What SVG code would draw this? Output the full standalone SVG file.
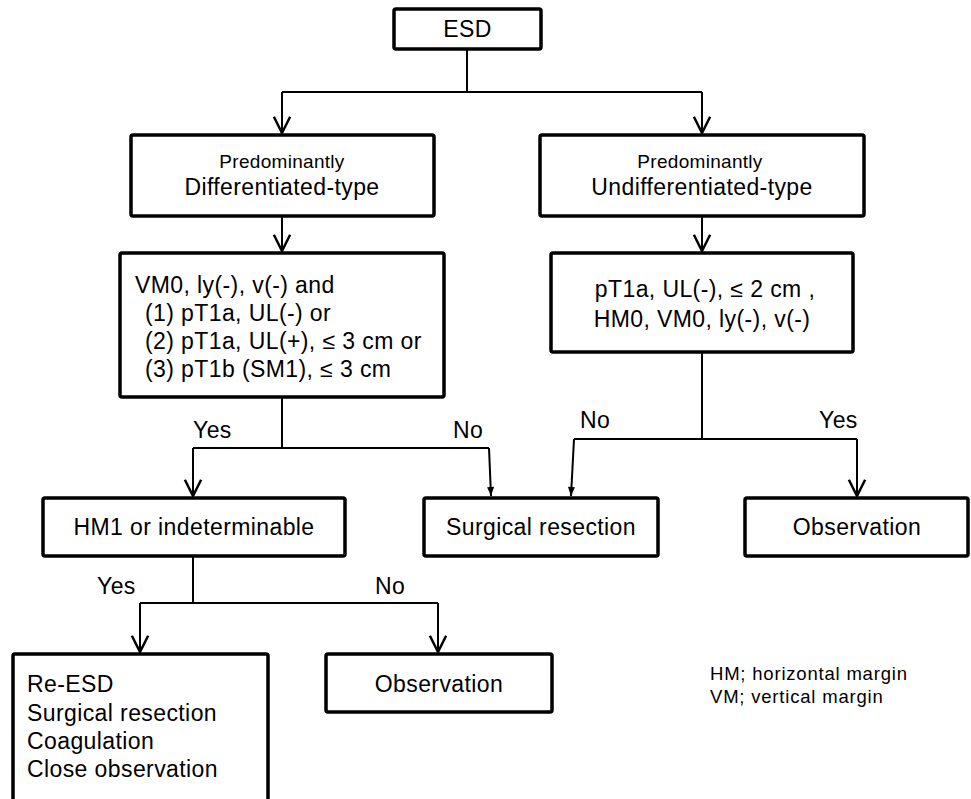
<svg xmlns="http://www.w3.org/2000/svg" width="971" height="799" viewBox="0 0 971 799">
<style>
.box{fill:#fff;stroke:#000;stroke-width:3.5}
.t{font-family:"Liberation Sans",Arial,sans-serif;font-size:23px;letter-spacing:0.4px;fill:#000}
.s{font-family:"Liberation Sans",Arial,sans-serif;font-size:19px;letter-spacing:0.3px;fill:#000}
.g{font-family:"Liberation Sans",Arial,sans-serif;font-size:18.5px;letter-spacing:0.8px;fill:#000}
.c{text-anchor:middle}
.ln{fill:none;stroke:#000;stroke-width:2}
</style>
<defs>
<marker id="open" markerUnits="userSpaceOnUse" orient="auto" refX="0" refY="0" markerWidth="20" markerHeight="20" viewBox="-14 -8 16 16" overflow="visible">
<path d="M-13,-6.5 L0,0 L-13,6.5" fill="none" stroke="#000" stroke-width="2"/>
</marker>
<marker id="fill" markerUnits="userSpaceOnUse" orient="auto" refX="0" refY="0" markerWidth="12" markerHeight="12" viewBox="-10 -5 12 10" overflow="visible">
<path d="M-9,-3.5 L0,0 L-9,3.5 Z" fill="#000"/>
</marker>
</defs>
<g id="connectors">
<path class="ln" d="M467,49 V92"/>
<path class="ln" d="M282,92 H702"/>
<path class="ln" d="M282,92 V133" marker-end="url(#open)"/>
<path class="ln" d="M702,92 V133" marker-end="url(#open)"/>
<path class="ln" d="M282,216 V251" marker-end="url(#open)"/>
<path class="ln" d="M702,216 V251" marker-end="url(#open)"/>
<path class="ln" d="M282,397 V448"/>
<path class="ln" d="M193,448 H489"/>
<path class="ln" d="M193,448 V496" marker-end="url(#open)"/>
<path class="ln" d="M489,448 L491,496" marker-end="url(#fill)"/>
<path class="ln" d="M702,352 V439"/>
<path class="ln" d="M574,439 H857"/>
<path class="ln" d="M574,439 L571,496" marker-end="url(#fill)"/>
<path class="ln" d="M857,439 V496" marker-end="url(#open)"/>
<path class="ln" d="M193,556 V603"/>
<path class="ln" d="M140,603 H438"/>
<path class="ln" d="M140,603 V652" marker-end="url(#open)"/>
<path class="ln" d="M438,603 V652" marker-end="url(#open)"/>
</g>
<g id="labels">
<text class="t" x="193" y="438">Yes</text>
<text class="t" x="453" y="438">No</text>
<text class="t" x="580" y="428">No</text>
<text class="t" x="819" y="428">Yes</text>
<text class="t" x="97" y="594">Yes</text>
<text class="t" x="375" y="594">No</text>
</g>
<g id="esd">
<rect class="box" x="394" y="9" width="147" height="40" rx="2"/>
<text class="t c" x="467.5" y="37">ESD</text>
</g>
<g id="diff">
<rect class="box" x="131" y="135" width="303" height="81" rx="2"/>
<text class="s c" x="282" y="168">Predominantly</text>
<text class="t c" x="282" y="195">Differentiated-type</text>
</g>
<g id="undiff">
<rect class="box" x="540" y="135" width="324" height="81" rx="2"/>
<text class="s c" x="700" y="168">Predominantly</text>
<text class="t c" x="702" y="195">Undifferentiated-type</text>
</g>
<g id="crit-diff">
<rect class="box" x="120" y="253" width="324" height="144" rx="2"/>
<text class="t" x="135" y="293">VM0, ly(-), v(-) and</text>
<text class="t" x="145" y="321">(1) pT1a, UL(-) or</text>
<text class="t" x="145" y="349">(2) pT1a, UL(+), ≤ 3 cm or</text>
<text class="t" x="145" y="377">(3) pT1b (SM1), ≤ 3 cm</text>
</g>
<g id="crit-undiff">
<rect class="box" x="551" y="253" width="302" height="99" rx="2"/>
<text class="t c" x="705" y="297">pT1a, UL(-), ≤ 2 cm ,</text>
<text class="t c" x="702" y="327">HM0, VM0, ly(-), v(-)</text>
</g>
<g id="hm1">
<rect class="box" x="43" y="498" width="302" height="58" rx="2"/>
<text class="t c" x="194" y="535">HM1 or indeterminable</text>
</g>
<g id="surgical">
<rect class="box" x="424" y="498" width="234" height="58" rx="2"/>
<text class="t c" x="541" y="535">Surgical resection</text>
</g>
<g id="obs-right">
<rect class="box" x="745" y="498" width="223" height="58" rx="2"/>
<text class="t c" x="857" y="535">Observation</text>
</g>
<g id="options">
<rect class="box" x="13" y="654" width="255" height="160" rx="2"/>
<text class="t" x="27" y="692">Re-ESD</text>
<text class="t" x="27" y="721">Surgical resection</text>
<text class="t" x="27" y="749">Coagulation</text>
<text class="t" x="27" y="777">Close observation</text>
</g>
<g id="obs-bottom">
<rect class="box" x="326" y="654" width="226" height="58" rx="2"/>
<text class="t c" x="439" y="692">Observation</text>
</g>
<g id="legend">
<text class="g" x="710" y="680">HM; horizontal margin</text>
<text class="g" x="710" y="703">VM; vertical margin</text>
</g>
</svg>
